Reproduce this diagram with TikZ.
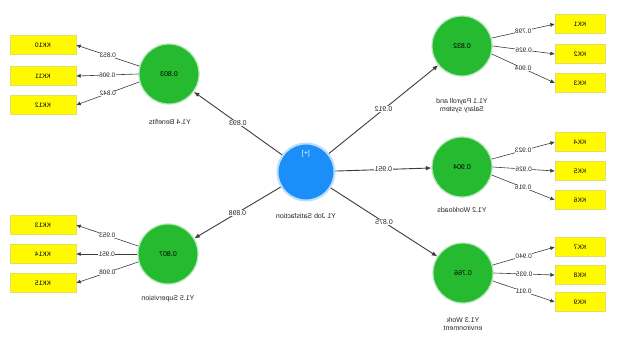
\documentclass[tikz,border=0pt]{standalone}
\usepackage{fontspec}
\usepackage{graphicx}
\setmainfont{Liberation Sans}
\usetikzlibrary{arrows.meta}
\definecolor{lvgreen}{RGB}{38,186,48}
\definecolor{lvblue}{RGB}{28,142,250}
\definecolor{mvyellow}{RGB}{255,250,0}
\definecolor{edgegray}{RGB}{60,60,60}
% all lettering of this model is set mirror-wise
\newcommand\mirtext[1]{\reflectbox{#1}}
\begin{document}
\begin{tikzpicture}[x=1pt,y=-1pt,
  lv/.style={circle, fill=lvgreen, draw=lvgreen!35, line width=1.2pt,
    minimum size=60pt, inner sep=0pt, font=\fontsize{7}{8}\selectfont},
  hub/.style={circle, fill=lvblue, draw=lvblue!30, line width=2pt,
    minimum size=57pt, inner sep=0pt},
  mv/.style={rectangle, fill=mvyellow, draw=mvyellow!80!black!60, line width=0.3pt,
    minimum height=19pt, inner sep=0pt, font=\fontsize{6.5}{7}\selectfont},
  mvl/.style={mv, minimum width=66pt},
  mvr/.style={mv, minimum width=50pt},
  lvcap/.style={font=\fontsize{7}{8.5}\selectfont, align=center, text=black!85},
  coef/.style={fill=white, inner sep=0.6pt, font=\fontsize{7}{8}\selectfont, text=black!85},
  loadlbl/.style={fill=white, inner sep=0.4pt, font=\fontsize{6.5}{7}\selectfont, text=black!85},
  strpath/.style={draw=edgegray, line width=0.9pt, -{Latex[length=5.5pt,width=4.5pt]}},
  ldg/.style={draw=edgegray, line width=0.6pt, -{Latex[length=4.5pt,width=4pt]}}
]
\useasboundingbox (0,0) rectangle (619,338);
\fill[white] (0,0) rectangle (619,338);

% second-order construct
\node[hub] (J) at (306,172) {};
\node[text=white, font=\fontsize{7}{8}\selectfont] (Jplus) at (306,154) {\mirtext{[+]}};
\node[lvcap] (Jcap) at (306,216) {\mirtext{Y1 Job Satisfaction}};

% first-order constructs
\node[lv] (B) at (169,74) {\mirtext{0.803}};
\node[lv] (S) at (168,254) {\mirtext{0.807}};
\node[lv] (P) at (462,46) {\mirtext{0.832}};
\node[lv] (W) at (462,167) {\mirtext{0.904}};
\node[lv] (E) at (463,273) {\mirtext{0.766}};

\node[lvcap] (Bcap) at (170,122) {\mirtext{Y1.4 Benefits}};
\node[lvcap] (Scap) at (168,299) {\mirtext{Y1.5 Supervision}};
\node[lvcap] (Pcap) at (462,106) {\mirtext{\begin{tabular}{@{}c@{}}Y1.1 Payroll and\\Salary system\end{tabular}}};
\node[lvcap] (Wcap) at (462,210) {\mirtext{Y1.2 Workloads}};
\node[lvcap] (Ecap) at (463,325) {\mirtext{\begin{tabular}{@{}c@{}}Y1.3 Work\\environment\end{tabular}}};

% indicators
\node[mvl] (K10) at (43,45) {\mirtext{KK10}};
\node[mvl] (K11) at (43,76) {\mirtext{KK11}};
\node[mvl] (K12) at (43,105) {\mirtext{KK12}};
\node[mvl] (K13) at (43,225) {\mirtext{KK13}};
\node[mvl] (K14) at (43,254) {\mirtext{KK14}};
\node[mvl] (K15) at (43,283) {\mirtext{KK15}};
\node[mvr] (K1) at (580,24) {\mirtext{KK1}};
\node[mvr] (K2) at (580,54) {\mirtext{KK2}};
\node[mvr] (K3) at (580,83) {\mirtext{KK3}};
\node[mvr] (K4) at (580,142) {\mirtext{KK4}};
\node[mvr] (K5) at (580,171) {\mirtext{KK5}};
\node[mvr] (K6) at (580,200) {\mirtext{KK6}};
\node[mvr] (K7) at (580,247) {\mirtext{KK7}};
\node[mvr] (K8) at (580,275) {\mirtext{KK8}};
\node[mvr] (K9) at (580,302) {\mirtext{KK9}};

% structural paths
\draw[strpath] (J) -- node[coef] {\mirtext{0.893}} (B);
\draw[strpath] (J) -- node[coef] {\mirtext{0.898}} (S);
\draw[strpath] (J) -- node[coef] {\mirtext{0.912}} (P);
\draw[strpath] (J) -- node[coef] {\mirtext{0.951}} (W);
\draw[strpath] (J) -- node[coef] {\mirtext{0.875}} (E);

% outer loadings
\draw[ldg] (B.165) -- node[loadlbl] {\mirtext{0.853}} (K10.east);
\draw[ldg] (B.180) -- node[loadlbl] {\mirtext{0.906}} (K11.east);
\draw[ldg] (B.195) -- node[loadlbl] {\mirtext{0.842}} (K12.east);
\draw[ldg] (S.165) -- node[loadlbl] {\mirtext{0.953}} (K13.east);
\draw[ldg] (S.180) -- node[loadlbl] {\mirtext{0.951}} (K14.east);
\draw[ldg] (S.195) -- node[loadlbl] {\mirtext{0.908}} (K15.east);
\draw[ldg] (P.15) -- node[loadlbl] {\mirtext{0.798}} (K1.west);
\draw[ldg] (P.0) -- node[loadlbl] {\mirtext{0.926}} (K2.west);
\draw[ldg] (P.-15) -- node[loadlbl] {\mirtext{0.904}} (K3.west);
\draw[ldg] (W.15) -- node[loadlbl] {\mirtext{0.923}} (K4.west);
\draw[ldg] (W.0) -- node[loadlbl] {\mirtext{0.926}} (K5.west);
\draw[ldg] (W.-15) -- node[loadlbl] {\mirtext{0.916}} (K6.west);
\draw[ldg] (E.15) -- node[loadlbl] {\mirtext{0.940}} (K7.west);
\draw[ldg] (E.0) -- node[loadlbl] {\mirtext{0.935}} (K8.west);
\draw[ldg] (E.-15) -- node[loadlbl] {\mirtext{0.911}} (K9.west);
\end{tikzpicture}
\end{document}
